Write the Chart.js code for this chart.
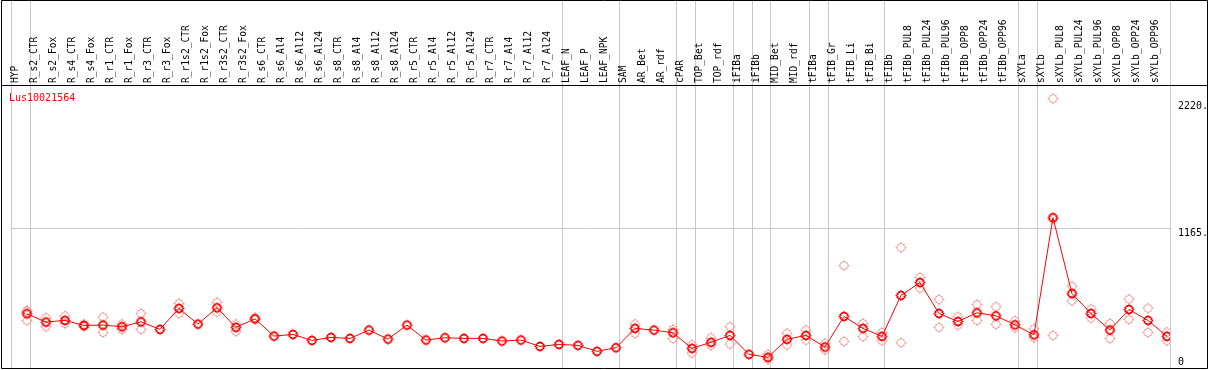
<!DOCTYPE html>
<html>
<head>
<meta charset="utf-8">
<style>
  html, body { margin: 0; padding: 0; background: #ffffff; }
  #wrap { width: 1209px; height: 370px; }
</style>
<script src="https://cdn.jsdelivr.net/npm/chart.js@4.4.1/dist/chart.umd.min.js"></script>
</head>
<body>
<div id="wrap"><canvas id="c" width="1209" height="370"></canvas></div>
<script>
const geneName = 'Lus10021564';

const categories = [
  'HYP','R_s2_CTR','R_s2_Fox','R_s4_CTR','R_s4_Fox','R_r1_CTR','R_r1_Fox','R_r3_CTR','R_r3_Fox',
  'R_r1s2_CTR','R_r1s2_Fox','R_r3s2_CTR','R_r3s2_Fox',
  'R_s6_CTR','R_s6_Al4','R_s6_Al12','R_s6_Al24','R_s8_CTR','R_s8_Al4','R_s8_Al12','R_s8_Al24',
  'R_r5_CTR','R_r5_Al4','R_r5_Al12','R_r5_Al24','R_r7_CTR','R_r7_Al4','R_r7_Al12','R_r7_Al24',
  'LEAF_N','LEAF_P','LEAF_NPK','SAM','AR_Bet','AR_rdf','cPAR','TOP_Bet','TOP_rdf',
  'iFIBa','iFIBb','MID_Bet','MID_rdf','tFIBa','tFIB_Gr','tFIB_Li','tFIB_Bi','tFIBb',
  'tFIBb_PUL8','tFIBb_PUL24','tFIBb_PUL96','tFIBb_OPP8','tFIBb_OPP24','tFIBb_OPP96',
  'sXYLa','sXYLb','sXYLb_PUL8','sXYLb_PUL24','sXYLb_PUL96','sXYLb_OPP8','sXYLb_OPP24','sXYLb_OPP96'
];

// mean expression per sample
const meanValues = [
  452,383,397,355,358,344,385,322,497,366,502,339,410,
  266,280,230,255,247,316,241,358,233,252,247,247,225,233,180,197,189,139,169,
  330,316,294,164,214,272,114,89,239,
  272,175,430,330,264,605,713,455,388,460,435,360,277,1254,621,455,316,488,397,264
];

// individual replicate values
const repHigh = [
  480,419,435,366,424,366,455,null,538,null,547,366,420,
  null,null,null,null,null,null,null,null,null,null,null,null,null,null,null,null,null,null,null,
  366,null,322,194,252,344,null,114,289,
  316,205,854,372,297,1004,755,572,427,530,510,394,327,2246,682,493,372,574,499,300
];
const repMid = [
  468,null,null,null,null,null,null,null,null,null,null,null,null,
  null,null,null,null,null,null,null,null,null,null,null,null,null,null,null,null,null,null,null,
  null,null,null,null,null,null,null,null,null,
  null,null,null,null,null,null,null,null,null,null,null,null,null,1244,null,null,null,null,null,null
];
const repLow = [
  395,344,372,344,297,322,322,null,455,null,466,305,405,
  null,null,null,null,null,null,null,null,null,null,null,null,null,null,null,null,null,null,null,
  289,null,247,125,189,200,null,72,191,
  233,150,222,261,227,211,666,339,358,397,364,335,252,272,560,416,247,405,297,227
];

// y-axis tick values and their labels
const yTicks = [0, 1165, 2220];
const yTickLabels = ['0', '1165.', '2220.'];
// sample-group separators (slot boundaries)
const groupBoundaries = [0, 1, 29, 32, 35, 36, 38, 39, 40, 42, 43, 46, 53, 54, 61];

const pointOffset = 0.84;

// pixel-style ring marker with four short ticks
function makeMarker(color, thick) {
  const c = document.createElement('canvas');
  c.width = 13; c.height = 13;
  const g = c.getContext('2d');
  g.fillStyle = color;
  for (let j = 0; j < 13; j++) {
    for (let i = 0; i < 13; i++) {
      const d = Math.hypot(i - 6, j - 6);
      const ring = Math.abs(d - 3.8) < thick;
      const tick = (i === 6 || j === 6) && d >= 5 && d <= 5.6;
      if (ring || tick) g.fillRect(i, j, 1, 1);
    }
  }
  return c;
}
const meanMarker = makeMarker('#ff0000', 0.75);
const repMarker = makeMarker('#ef9a9a', 0.5);

function pts(arr) {
  const out = [];
  arr.forEach((v, i) => { if (v !== null) out.push({ x: i + pointOffset, y: v }); });
  return out;
}

const framePlugin = {
  id: 'frame',
  beforeDraw(chart) {
    const { ctx, chartArea, scales } = chart;
    ctx.save();
    ctx.strokeStyle = '#c8c8c8';
    ctx.lineWidth = 1;
    groupBoundaries.forEach(b => {
      const x = Math.floor(scales.x.getPixelForValue(b)) + 0.5;
      ctx.beginPath(); ctx.moveTo(x, 0); ctx.lineTo(x, chartArea.bottom); ctx.stroke();
    });
    ctx.restore();
  },
  afterDraw(chart) {
    const { ctx, chartArea, width, scales } = chart;
    ctx.save();
    ctx.strokeStyle = '#000000';
    ctx.lineWidth = 1;
    ctx.beginPath();
    ctx.rect(1.5, 0.5, width - 3, Math.round(chartArea.bottom));
    ctx.moveTo(1.5, chartArea.top + 0.5);
    ctx.lineTo(width - 1.5, chartArea.top + 0.5);
    ctx.stroke();
    // y-axis tick labels
    ctx.fillStyle = '#000000';
    ctx.font = '10px "DejaVu Sans Mono", monospace';
    ctx.textBaseline = 'middle';
    ctx.textAlign = 'left';
    yTicks.forEach((v, i) => {
      let y = scales.y.getPixelForValue(v) + 5;
      if (y > chartArea.bottom - 6) y = chartArea.bottom - 6;
      ctx.fillText(yTickLabels[i], chartArea.right + 8, y);
    });
    // gene name
    ctx.fillStyle = '#ff0000';
    ctx.textBaseline = 'alphabetic';
    ctx.fillText(geneName, 9, chartArea.top + 16);
    ctx.restore();
  }
};

const pointSizing = { pointRadius: 1, pointHoverRadius: 1, pointBorderWidth: 1, pointHoverBorderWidth: 1 };

new Chart(document.getElementById('c'), {
  type: 'scatter',
  data: {
    datasets: [
      Object.assign({
        label: 'mean',
        data: pts(meanValues),
        showLine: true,
        borderColor: '#ff0000',
        borderWidth: 1,
        pointStyle: meanMarker,
        tension: 0
      }, pointSizing),
      Object.assign({
        label: 'replicates',
        data: pts(repHigh).concat(pts(repMid), pts(repLow)),
        showLine: false,
        pointStyle: repMarker
      }, pointSizing)
    ]
  },
  options: {
    responsive: false,
    animation: false,
    events: [],
    layout: { padding: { left: 11, right: 0, top: 0, bottom: 2 } },
    plugins: { legend: { display: false }, tooltip: { enabled: false }, title: { display: false } },
    scales: {
      x: {
        type: 'linear',
        position: 'top',
        min: 0,
        max: 61,
        afterBuildTicks(scale) {
          scale.ticks = categories.map((c, i) => ({ value: i + pointOffset }));
        },
        afterFit(scale) {
          scale.height = 85;
          scale.paddingLeft = 0; scale.paddingRight = 0;
        },
        grid: { display: false, drawTicks: false },
        border: { display: false },
        ticks: {
          autoSkip: false,
          maxRotation: 90,
          minRotation: 90,
          padding: 2,
          color: '#000000',
          font: { family: '"DejaVu Sans Mono", monospace', size: 9.6 },
          callback(value, index) { return categories[index]; }
        }
      },
      y: {
        type: 'linear',
        position: 'right',
        min: 0,
        max: 2360,
        afterBuildTicks(scale) {
          scale.ticks = yTicks.map(v => ({ value: v }));
        },
        afterFit(scale) {
          scale.width = 39;
          scale.paddingTop = 0; scale.paddingBottom = 0;
        },
        grid: {
          drawTicks: false,
          color(ctx) { return ctx.tick && ctx.tick.value === yTicks[1] ? '#c8c8c8' : 'rgba(0,0,0,0)'; },
          lineWidth: 1
        },
        border: { display: false },
        ticks: { display: false }
      }
    }
  },
  plugins: [framePlugin]
});
</script>
</body>
</html>
